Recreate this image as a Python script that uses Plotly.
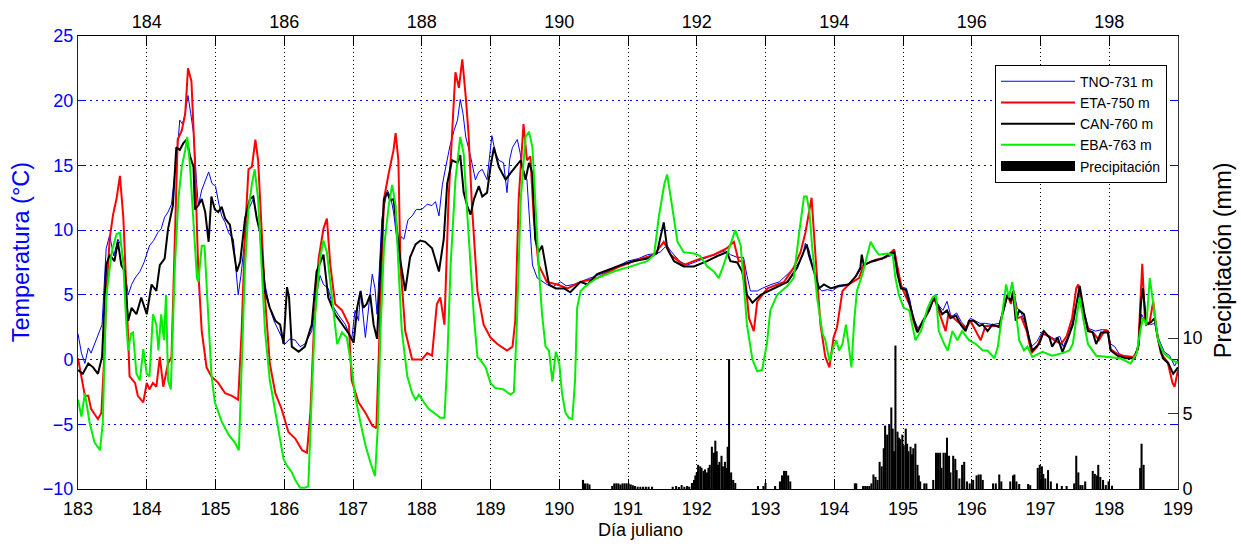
import plotly.graph_objects as go

# ---------------- data ----------------
tno_day = [183.0, 183.05, 183.1, 183.15, 183.19, 183.24, 183.3, 183.35, 183.41, 183.46, 183.52, 183.58, 183.63,
           183.68, 183.73, 183.78, 183.83, 183.9, 183.96, 184.04, 184.1, 184.16, 184.21, 184.26, 184.31, 184.36,
           184.41, 184.45, 184.48, 184.52, 184.55, 184.6, 184.64, 184.68, 184.72, 184.75, 184.8, 184.85, 184.9,
           184.95, 185.0, 185.05, 185.09, 185.14, 185.19, 185.26, 185.3, 185.33, 185.37, 185.41, 185.45, 185.48,
           185.55, 185.6, 185.65, 185.72, 185.79, 185.85, 185.92, 186.01, 186.08, 186.16, 186.23, 186.3, 186.4,
           186.47, 186.52, 186.57, 186.64, 186.7, 186.78, 186.89, 186.98, 187.03, 187.08, 187.11, 187.18, 187.24,
           187.28, 187.32, 187.35, 187.42, 187.5, 187.55, 187.59, 187.66, 187.7, 187.74, 187.8, 187.86, 187.92,
           188.0, 188.08, 188.15, 188.2, 188.25, 188.3, 188.35, 188.41, 188.47, 188.52, 188.56, 188.6, 188.64,
           188.71, 188.78, 188.83, 188.88, 188.95, 189.02, 189.07, 189.12, 189.19, 189.24, 189.28, 189.32, 189.39,
           189.43, 189.46, 189.53, 189.56, 189.61, 189.68, 189.82, 189.9, 190.02, 190.1, 190.21, 190.3, 190.45,
           190.55, 190.7, 190.85, 190.99, 191.15, 191.28, 191.4, 191.47, 191.52, 191.57, 191.62, 191.67, 191.75,
           191.86, 192.0, 192.15, 192.25, 192.35, 192.42, 192.49, 192.59, 192.68, 192.73, 192.78, 192.88, 192.95,
           193.08, 193.2, 193.32, 193.46, 193.54, 193.58, 193.63, 193.7, 193.76, 193.82, 193.9, 193.97, 194.05,
           194.15, 194.25, 194.33, 194.42, 194.5, 194.6, 194.72, 194.82, 194.88, 194.93, 194.98, 195.05, 195.1,
           195.15, 195.22, 195.3, 195.38, 195.45, 195.52, 195.58, 195.64, 195.7, 195.78, 195.85, 195.92, 195.98,
           196.05, 196.12, 196.2, 196.3, 196.4, 196.47, 196.52, 196.57, 196.61, 196.66, 196.72, 196.8, 196.87,
           196.95, 197.03, 197.1, 197.2, 197.28, 197.33, 197.4, 197.47, 197.53, 197.57, 197.63, 197.7, 197.8,
           197.88, 197.97, 198.02, 198.08, 198.15, 198.25, 198.36, 198.42, 198.47, 198.52, 198.6, 198.66, 198.72,
           198.8, 198.88, 198.95, 199.0]
tno_temp = [2.0, 0.5, -0.3, 0.9, 0.5, 1.2, 2.0, 2.7, 8.6, 9.6, 8.0, 9.3, 8.8,
            7.0, 5.0, 5.8, 6.3, 6.8, 7.5, 8.8, 9.2, 9.8, 10.1, 11.0, 11.4, 12.0,
            14.4, 16.5, 18.5, 18.2, 18.8, 20.4, 19.0, 17.5, 14.0, 11.9, 13.1, 13.8, 14.5,
            13.6, 13.4, 12.0, 11.1, 10.6, 9.8, 9.3, 7.0, 5.0, 6.5, 8.6, 10.5, 11.6,
            12.4, 11.0, 9.8, 5.8, 4.0, 3.0, 2.2, 1.2, 1.6, 1.5, 1.0, 1.2, 2.2,
            5.0, 6.5, 5.8, 5.5, 4.2, 3.5, 2.7, 1.5, 3.8, 3.0, 5.3, 1.7, 5.0,
            6.6, 5.5, 3.5, 10.9, 13.1, 12.5, 11.4, 8.3, 9.5, 9.3, 10.8, 11.1, 11.6,
            11.6, 12.0, 11.9, 12.2, 11.1, 13.5, 14.9, 16.5, 17.7, 18.5, 20.1, 19.0, 17.2,
            15.7, 13.9, 14.5, 14.7, 13.9, 17.3, 16.0, 15.4, 15.2, 12.9, 15.5, 16.4, 17.0,
            16.0, 14.9, 13.9, 11.4, 7.3, 6.3, 5.8, 5.6, 6.0, 5.7, 5.8, 6.0, 6.3,
            6.5, 6.8, 7.2, 7.6, 7.8, 8.1, 8.2, 8.3, 8.6, 8.8, 8.4, 8.1, 7.6,
            7.3, 7.6, 7.9, 8.1, 8.3, 8.4, 8.1, 7.9, 7.9, 6.5, 5.3, 5.3, 5.5,
            5.8, 6.0, 6.6, 7.3, 8.0, 9.0, 8.5, 7.0, 5.6, 5.3, 5.4, 5.3, 5.6,
            5.7, 6.0, 6.5, 7.3, 7.5, 7.6, 7.9, 8.0, 8.4, 6.8, 5.6, 5.5, 4.6,
            3.2, 2.4, 3.1, 4.0, 4.6, 4.2, 3.8, 4.5, 3.3, 3.6, 2.9, 2.5, 3.2,
            3.0, 2.8, 2.8, 2.7, 2.8, 4.2, 5.0, 4.6, 5.3, 4.0, 3.6, 2.5, 1.0,
            1.4, 2.2, 1.9, 1.6, 1.8, 1.0, 1.8, 3.0, 4.5, 5.0, 3.8, 2.4, 2.2,
            2.3, 2.3, 1.2, 1.0, 0.4, 0.2, 0.2, 1.0, 3.5, 3.0, 2.7, 2.8, 1.6,
            0.6, 0.3, -0.5, 0.0]

eta_day = [183.0, 183.05, 183.1, 183.15, 183.19, 183.24, 183.29, 183.34, 183.38, 183.41, 183.46, 183.51, 183.56,
           183.61, 183.66, 183.7, 183.75, 183.83, 183.87, 183.95, 184.0, 184.04, 184.09, 184.14, 184.19, 184.24,
           184.31, 184.36, 184.41, 184.45, 184.51, 184.56, 184.6, 184.65, 184.7, 184.75, 184.8, 184.87, 184.94,
           185.04, 185.14, 185.24, 185.33, 185.38, 185.43, 185.48, 185.53, 185.58, 185.62, 185.67, 185.72, 185.79,
           185.87, 185.96, 186.06, 186.16, 186.26, 186.33, 186.38, 186.43, 186.5, 186.57, 186.62, 186.67, 186.74,
           186.84, 186.94, 186.98, 187.08, 187.18, 187.28, 187.34, 187.4, 187.45, 187.52, 187.59, 187.62, 187.66,
           187.69, 187.76, 187.86, 188.0, 188.08, 188.15, 188.22, 188.27, 188.33, 188.39, 188.47, 188.49, 188.54,
           188.59, 188.64, 188.68, 188.73, 188.81, 188.9, 189.0, 189.1, 189.24, 189.32, 189.36, 189.41, 189.46,
           189.48, 189.53, 189.58, 189.63, 189.7, 189.82, 189.97, 190.12, 190.31, 190.55, 190.84, 191.08, 191.38,
           191.52, 191.62, 191.81, 192.0, 192.25, 192.44, 192.54, 192.61, 192.68, 192.76, 192.83, 192.88, 193.03,
           193.27, 193.41, 193.51, 193.58, 193.67, 193.73, 193.8, 193.87, 193.93, 193.99, 194.04, 194.12, 194.21,
           194.36, 194.43, 194.6, 194.75, 194.87, 194.92, 194.97, 195.03, 195.1, 195.15, 195.2, 195.3, 195.38,
           195.45, 195.52, 195.62, 195.66, 195.72, 195.78, 195.85, 195.92, 195.98, 196.06, 196.13, 196.2, 196.3,
           196.4, 196.47, 196.52, 196.57, 196.61, 196.66, 196.72, 196.8, 196.87, 196.95, 197.03, 197.12, 197.2,
           197.3, 197.38, 197.46, 197.52, 197.55, 197.6, 197.64, 197.7, 197.78, 197.85, 197.93, 197.98, 198.02,
           198.1, 198.2, 198.35, 198.42, 198.46, 198.48, 198.52, 198.58, 198.64, 198.68, 198.75, 198.85, 198.92,
           198.95, 199.0]
eta_temp = [0.1, -1.5, -2.8, -2.8, -3.8, -4.2, -4.6, -4.1, 0.0, 4.8, 9.3, 11.2, 12.4,
            14.2, 10.9, 5.8, -1.3, -1.8, -2.8, -3.3, -1.8, -2.3, -1.8, -2.1, 0.2, -2.1,
            -0.3, 0.2, 8.8, 17.0, 17.7, 19.0, 22.5, 21.5, 15.4, 6.8, 2.2, -0.6, -1.3,
            -1.8, -2.6, -2.8, -3.1, 2.2, 9.8, 14.7, 14.9, 17.0, 15.4, 9.8, 4.8, -0.3,
            -2.6, -3.8, -5.6, -6.1, -7.0, -7.2, -4.1, 2.2, 7.8, 10.1, 10.9, 7.3, 4.3,
            3.8, 2.7, -1.6, -3.3, -4.1, -5.1, -5.3, 4.8, 12.4, 14.4, 16.2, 17.5, 15.4,
            7.3, 2.2, 0.0, 0.0, 0.5, 0.3, 4.3, 4.8, 2.7, 12.4, 20.3, 22.2, 21.0,
            23.2, 20.3, 17.5, 11.9, 5.3, 2.7, 1.7, 1.2, 0.7, 1.0, 3.0, 12.4, 17.0,
            18.2, 15.4, 15.7, 10.9, 7.3, 6.0, 5.8, 5.5, 6.0, 6.3, 7.1, 7.6, 8.1,
            9.1, 8.1, 7.3, 7.7, 8.1, 8.6, 9.1, 7.6, 7.6, 3.2, 2.2, 4.5, 5.5,
            6.0, 7.1, 8.3, 9.8, 12.5, 7.8, 2.7, 0.2, -0.6, 1.7, 2.5, 5.3, 5.8,
            6.3, 7.3, 7.7, 7.9, 8.5, 7.2, 5.8, 5.0, 4.2, 3.0, 2.2, 3.0, 3.8,
            4.8, 3.7, 2.2, 3.5, 3.3, 3.0, 2.7, 2.4, 3.0, 2.2, 1.5, 2.6, 2.6,
            2.6, 4.0, 5.0, 4.3, 5.3, 3.2, 3.3, 2.2, 0.5, 1.0, 2.0, 1.8, 1.5,
            1.2, 1.8, 3.2, 5.5, 5.8, 4.0, 3.2, 2.3, 2.0, 1.5, 2.2, 2.2, 0.8,
            0.5, 0.3, 0.2, 0.8, 5.0, 7.4, 3.0, 2.7, 4.5, 2.5, 0.5, -0.2, -1.8,
            -2.1, -0.8]

can_day = [183.0, 183.07, 183.15, 183.22, 183.29, 183.35, 183.41, 183.46, 183.53, 183.58, 183.63, 183.68, 183.7,
           183.73, 183.78, 183.85, 183.92, 184.0, 184.07, 184.14, 184.19, 184.26, 184.31, 184.38, 184.43, 184.48,
           184.53, 184.58, 184.63, 184.68, 184.7, 184.75, 184.8, 184.85, 184.9, 184.94, 184.99, 185.04, 185.09,
           185.14, 185.21, 185.26, 185.31, 185.36, 185.43, 185.5, 185.55, 185.6, 185.65, 185.72, 185.79, 185.87,
           185.94, 185.99, 186.04, 186.07, 186.11, 186.21, 186.3, 186.4, 186.47, 186.57, 186.64, 186.74, 186.84,
           186.94, 187.01, 187.06, 187.11, 187.15, 187.2, 187.25, 187.3, 187.35, 187.4, 187.45, 187.5, 187.54,
           187.59, 187.64, 187.69, 187.76, 187.83, 187.91, 187.98, 188.05, 188.15, 188.25, 188.32, 188.37, 188.44,
           188.52, 188.56, 188.61, 188.66, 188.71, 188.76, 188.83, 188.88, 188.95, 189.0, 189.05, 189.12, 189.17,
           189.22, 189.29, 189.36, 189.44, 189.51, 189.56, 189.61, 189.65, 189.7, 189.75, 189.8, 189.85, 189.95,
           190.07, 190.16, 190.31, 190.41, 190.55, 190.7, 190.89, 191.08, 191.28, 191.42, 191.52, 191.57, 191.67,
           191.81, 191.96, 192.15, 192.3, 192.44, 192.49, 192.59, 192.66, 192.73, 192.81, 192.93, 193.12, 193.32,
           193.46, 193.56, 193.6, 193.63, 193.7, 193.78, 193.85, 193.95, 194.07, 194.21, 194.31, 194.38, 194.4,
           194.43, 194.55, 194.7, 194.82, 194.87, 194.92, 194.97, 195.04, 195.12, 195.17, 195.21, 195.29, 195.38,
           195.45, 195.52, 195.57, 195.64, 195.69, 195.77, 195.84, 195.91, 195.96, 196.03, 196.11, 196.16, 196.23,
           196.3, 196.4, 196.47, 196.52, 196.57, 196.6, 196.64, 196.69, 196.76, 196.83, 196.88, 196.98, 197.05,
           197.13, 197.17, 197.25, 197.32, 197.39, 197.47, 197.54, 197.57, 197.64, 197.69, 197.76, 197.81, 197.88,
           197.98, 198.02, 198.12, 198.24, 198.37, 198.43, 198.46, 198.49, 198.54, 198.61, 198.66, 198.71, 198.78,
           198.86, 198.93, 199.0]
can_temp = [-0.8, -1.1, -0.3, -0.6, -1.1, 0.2, 7.3, 8.1, 7.6, 9.1, 7.3, 6.8, 5.0,
            3.0, 4.0, 3.5, 4.8, 3.5, 5.8, 5.3, 7.3, 7.8, 10.1, 11.9, 16.4, 16.2,
            16.7, 17.0, 15.7, 14.9, 11.6, 11.9, 12.4, 11.4, 9.1, 12.6, 11.6, 11.4, 11.8,
            10.9, 10.4, 8.6, 6.8, 7.6, 10.9, 12.4, 12.6, 10.9, 9.8, 5.3, 4.0, 3.0,
            2.7, 1.2, 5.6, 4.8, 1.0, 0.6, 1.0, 2.7, 6.8, 8.1, 4.8, 3.5, 2.7,
            2.0, 1.3, 4.0, 5.3, 4.0, 4.3, 5.0, 2.7, 1.6, 7.3, 12.4, 12.9, 12.3,
            12.4, 9.8, 7.6, 5.3, 7.9, 8.9, 9.2, 9.1, 8.6, 6.8, 9.3, 13.6, 15.4,
            15.2, 15.8, 12.9, 11.9, 11.2, 12.4, 13.4, 12.6, 12.9, 14.9, 16.4, 14.9, 14.4,
            13.9, 14.4, 14.9, 15.4, 13.9, 15.2, 14.4, 9.3, 8.3, 8.8, 7.3, 5.8, 5.5,
            5.5, 5.2, 6.0, 5.8, 6.6, 6.9, 7.3, 7.6, 7.8, 8.2, 10.6, 8.6, 7.6,
            7.2, 7.2, 7.6, 8.0, 8.3, 7.6, 7.5, 6.8, 5.0, 4.4, 5.0, 5.5, 6.0,
            7.1, 8.3, 8.9, 8.1, 6.8, 5.5, 5.8, 5.5, 5.7, 5.8, 6.4, 7.1, 8.1,
            7.3, 7.6, 7.8, 8.2, 8.3, 6.6, 5.5, 5.4, 3.8, 2.7, 2.1, 3.0, 3.8,
            4.8, 4.0, 3.5, 3.8, 3.2, 3.4, 2.7, 2.2, 3.0, 3.0, 2.6, 2.7, 2.2,
            2.7, 2.5, 4.0, 5.0, 4.5, 5.3, 3.0, 3.8, 3.5, 1.7, 0.7, 1.2, 2.2,
            1.7, 1.0, 1.7, 0.6, 1.5, 2.7, 5.0, 5.7, 3.5, 2.2, 2.1, 1.2, 2.1,
            2.1, 0.7, 0.3, 0.1, 0.1, 1.2, 4.3, 5.5, 2.7, 2.9, 3.2, 1.5, 0.1,
            -0.3, -1.1, -0.6]

eba_day = [183.0, 183.05, 183.1, 183.17, 183.24, 183.32, 183.36, 183.41, 183.49, 183.56, 183.61, 183.66, 183.7,
           183.73, 183.77, 183.8, 183.85, 183.9, 183.95, 184.0, 184.04, 184.09, 184.14, 184.17, 184.21, 184.25,
           184.28, 184.31, 184.35, 184.41, 184.46, 184.51, 184.56, 184.59, 184.63, 184.68, 184.73, 184.75, 184.8,
           184.84, 184.9, 184.94, 184.99, 185.09, 185.19, 185.28, 185.34, 185.38, 185.43, 185.48, 185.53, 185.57,
           185.62, 185.67, 185.72, 185.79, 185.87, 185.94, 185.99, 186.04, 186.11, 186.16, 186.23, 186.3, 186.35,
           186.4, 186.45, 186.52, 186.57, 186.62, 186.67, 186.72, 186.77, 186.84, 186.91, 186.98, 187.03, 187.11,
           187.18, 187.25, 187.32, 187.36, 187.4, 187.45, 187.52, 187.57, 187.62, 187.66, 187.71, 187.79, 187.86,
           187.91, 187.96, 188.03, 188.1, 188.2, 188.27, 188.33, 188.37, 188.42, 188.49, 188.56, 188.61, 188.66,
           188.71, 188.76, 188.81, 188.85, 188.93, 189.0, 189.07, 189.19, 189.29, 189.34, 189.38, 189.44, 189.51,
           189.56, 189.61, 189.65, 189.7, 189.75, 189.8, 189.85, 189.9, 189.95, 190.0, 190.04, 190.09, 190.14,
           190.19, 190.23, 190.26, 190.31, 190.41, 190.55, 190.79, 191.04, 191.28, 191.38, 191.45, 191.53, 191.57,
           191.64, 191.72, 191.81, 191.96, 192.05, 192.15, 192.25, 192.32, 192.39, 192.47, 192.56, 192.64, 192.68,
           192.73, 192.81, 192.88, 192.95, 193.02, 193.07, 193.17, 193.32, 193.41, 193.49, 193.56, 193.6, 193.64,
           193.68, 193.75, 193.83, 193.87, 193.93, 193.99, 194.03, 194.07, 194.12, 194.17, 194.2, 194.25, 194.29,
           194.33, 194.41, 194.48, 194.53, 194.58, 194.65, 194.77, 194.85, 194.89, 194.94, 195.01, 195.09, 195.18,
           195.26, 195.36, 195.43, 195.48, 195.52, 195.6, 195.65, 195.72, 195.79, 195.86, 195.96, 196.06, 196.16,
           196.23, 196.33, 196.38, 196.45, 196.5, 196.54, 196.59, 196.63, 196.69, 196.76, 196.81, 196.88, 197.03,
           197.17, 197.32, 197.42, 197.47, 197.53, 197.57, 197.62, 197.69, 197.81, 197.96, 198.16, 198.31, 198.4,
           198.45, 198.49, 198.54, 198.59, 198.64, 198.71, 198.79, 198.88, 199.0]
eba_temp = [-3.1, -4.4, -2.6, -4.9, -6.4, -7.0, -4.9, 4.8, 8.3, 9.7, 9.8, 7.3, 3.0,
            0.7, 2.0, 2.1, -1.1, -1.6, 0.8, -1.1, -1.3, 3.5, 2.7, 0.7, 3.5, 1.5,
            5.0, -1.6, -2.3, 7.3, 12.4, 14.9, 16.2, 17.2, 14.9, 10.9, 6.3, 6.0, 8.8,
            8.8, 2.2, -1.1, -3.3, -4.8, -5.8, -6.4, -7.0, -0.3, 7.3, 11.6, 13.6, 14.7,
            12.4, 7.3, 2.2, -1.6, -4.1, -6.1, -7.7, -8.2, -8.7, -9.3, -9.9, -9.9, -9.8,
            -2.8, 3.5, 7.8, 9.2, 8.3, 5.8, 3.2, 1.2, 2.1, 1.7, -0.6, -2.8, -4.9,
            -6.6, -7.9, -9.0, -5.3, 2.2, 8.6, 11.9, 13.5, 11.9, 7.3, 2.2, -1.3, -2.6,
            -3.1, -2.7, -3.3, -3.8, -4.2, -4.5, -4.5, -0.3, 7.3, 13.9, 17.2, 15.9, 11.4,
            7.3, 3.2, 0.2, 0.0, -0.6, -1.8, -2.2, -2.3, -2.7, -2.5, 2.2, 12.4, 17.2,
            17.6, 16.4, 12.4, 7.3, 3.5, 1.0, 0.7, -1.7, 0.6, -0.3, -2.6, -4.1, -4.5,
            -4.6, -1.6, 4.0, 5.3, 5.8, 6.3, 6.8, 7.2, 7.6, 8.1, 11.1, 13.6, 14.3,
            11.9, 9.1, 8.3, 8.2, 8.0, 7.2, 6.8, 6.3, 7.3, 8.6, 10.0, 8.8, 6.0,
            2.7, 0.0, -0.9, -0.8, 1.2, 3.8, 5.0, 5.7, 6.3, 9.8, 12.6, 12.6, 11.4,
            8.6, 4.8, 2.0, 1.5, -0.1, 1.0, 1.5, 0.7, 1.2, 2.7, 1.5, -0.6, 3.0,
            5.3, 6.6, 8.1, 9.1, 8.6, 8.1, 8.2, 8.1, 6.3, 5.0, 4.0, 3.8, 1.5,
            2.2, 4.0, 4.8, 5.0, 2.2, 1.2, 0.7, 2.2, 1.5, 2.2, 1.5, 1.2, 0.7,
            0.7, 0.1, 1.0, 3.8, 5.8, 4.8, 6.0, 4.3, 1.5, 0.7, 1.0, 0.2, 0.6,
            0.3, 0.5, 0.7, 1.2, 3.5, 4.8, 3.2, 1.2, 0.3, 0.2, 0.1, -0.3, 0.5,
            2.2, 3.2, 2.7, 6.3, 4.3, 1.5, 0.5, 0.1, -0.3]

precip_day = [190.345, 190.375, 190.41, 190.44,
              190.77, 190.80, 190.83, 190.86, 190.89, 190.92, 190.95, 190.98, 191.01, 191.04, 191.07, 191.10,
              191.14, 191.18, 191.22, 191.26, 191.30, 191.35,
              191.65, 191.70, 191.74, 191.78, 191.82, 191.86, 191.89,
              191.93, 191.96, 191.98, 192.0, 192.02, 192.05, 192.07, 192.10, 192.12, 192.15, 192.17, 192.19,
              192.22, 192.25, 192.27, 192.29, 192.31, 192.33, 192.36, 192.38, 192.41, 192.43, 192.45, 192.47,
              192.50, 192.53, 192.56,
              192.89, 192.97, 193.0, 193.14, 193.21, 193.24, 193.27, 193.30, 193.33, 193.36,
              194.30, 194.32, 194.42, 194.45, 194.48, 194.51, 194.54, 194.57, 194.60, 194.63, 194.66, 194.69,
              194.72, 194.74, 194.77, 194.80, 194.83, 194.85, 194.87, 194.89, 194.92, 194.94, 194.96, 194.99,
              195.01, 195.04, 195.06, 195.08, 195.11, 195.13, 195.15, 195.18, 195.21, 195.23, 195.25, 195.31,
              195.34,
              195.44, 195.48, 195.51, 195.54, 195.56, 195.59, 195.62, 195.64, 195.67, 195.69, 195.73, 195.76,
              195.78, 195.82, 195.86, 195.89, 195.93, 195.97, 196.02, 196.07, 196.10, 196.13, 196.16,
              196.31, 196.35, 196.40, 196.43, 196.56, 196.60, 196.62, 196.65, 196.69, 196.82, 196.85,
              196.96, 196.99, 197.02, 197.04, 197.07, 197.11, 197.15, 197.24, 197.31, 197.38,
              197.49, 197.52, 197.55, 197.58, 197.61, 197.65, 197.76, 197.79, 197.82, 197.84, 197.87, 197.91,
              197.95, 197.99, 198.04,
              198.45, 198.47, 198.50]
precip_mm = [0.6, 0.37, 0.37, 0.3,
             0.2, 0.37, 0.37, 0.37, 0.3, 0.37, 0.37, 0.37, 0.37, 0.3, 0.25, 0.2,
             0.15, 0.15, 0.15, 0.15, 0.15, 0.15,
             0.15, 0.2, 0.1, 0.26, 0.15, 0.2, 0.15,
             0.4, 0.6, 0.9, 1.1, 1.6, 1.5, 1.4, 1.2, 1.3, 1.1, 1.4, 1.6,
             2.8, 2.4, 3.2, 2.5, 1.6, 1.8, 2.2, 1.5, 1.8, 1.4, 2.8, 8.6,
             1.1, 0.6, 0.4,
             0.2, 0.2, 0.4, 0.2, 0.5, 0.9, 1.2, 1.2, 0.9, 0.5,
             0.37, 0.37, 0.2, 0.2, 0.2, 0.2, 0.37, 0.96, 0.8, 0.6, 1.8, 1.5,
             2.7, 4.2, 3.6, 4.3, 5.4, 4.0, 2.5, 9.5, 3.8, 3.4, 3.3, 3.6,
             2.9, 4.0, 3.0, 2.5, 2.8, 2.3, 2.7, 3.0, 1.6, 0.9, 0.5, 0.37,
             0.37,
             0.6, 2.4, 2.4, 2.4, 1.4, 2.4, 2.4, 3.4, 2.2, 1.1, 2.2, 2.0,
             1.25, 0.7, 1.6, 1.8, 0.5, 0.37, 0.6, 0.9, 0.96, 0.96, 0.6,
             0.37, 0.37, 0.96, 0.5, 0.5, 0.9, 0.96, 0.5, 0.33, 0.33, 0.25,
             1.4, 1.6, 1.5, 1.0, 0.7, 1.25, 0.5, 0.37, 0.2, 0.2,
             0.37, 2.2, 1.1, 0.26, 0.26, 0.5, 1.2, 1.0, 0.9, 1.6, 0.8, 0.6,
             0.26, 0.5, 0.22,
             1.4, 3.0, 1.6]

bottom_ticks = list(range(183, 200))
top_labels = [str(d) if d % 2 == 0 else "" for d in bottom_ticks]
temp_ticks = [-10, -5, 0, 5, 10, 15, 20, 25]
precip_ticks = [0, 5, 10]

FONT = "Liberation Sans, Arial, sans-serif"

# plot-area geometry in pixels (for placing the titles like the original)
L, T, W, H = 78, 31, 1100, 458.5

def px_x(p):
    return (p - L) / W

def px_y(p):
    return (T + H - p) / H

fig = go.Figure()
fig.add_trace(go.Bar(x=precip_day, y=precip_mm, yaxis="y2", width=0.03,
                     marker=dict(color="#000000", line=dict(width=0)),
                     showlegend=False, name="Precipitación"))
fig.add_trace(go.Scatter(x=tno_day, y=tno_temp, mode="lines", name="TNO-731 m",
                         line=dict(color="#0000ff", width=1)))
fig.add_trace(go.Scatter(x=eta_day, y=eta_temp, mode="lines", name="ETA-750 m",
                         line=dict(color="#ff0000", width=2)))
fig.add_trace(go.Scatter(x=can_day, y=can_temp, mode="lines", name="CAN-760 m",
                         line=dict(color="#000000", width=2)))
fig.add_trace(go.Scatter(x=eba_day, y=eba_temp, mode="lines", name="EBA-763 m",
                         line=dict(color="#00ee00", width=2)))
fig.add_trace(go.Scatter(x=[None], y=[None], mode="lines", name="Precipitación",
                         line=dict(color="#000000", width=15)))
# dummy trace for the top axis
fig.add_trace(go.Scatter(x=[183, 199], y=[None, None], xaxis="x2", mode="lines",
                         showlegend=False, hoverinfo="skip"))

fig.update_layout(
    width=1241, height=544,
    margin=dict(l=78, r=63, t=31, b=55),
    paper_bgcolor="white", plot_bgcolor="white",
    font=dict(family=FONT, size=18, color="black"),
    showlegend=True,
    legend=dict(x=px_x(995), y=px_y(60), xanchor="left", yanchor="top",
                bgcolor="white", bordercolor="black", borderwidth=1,
                font=dict(size=14, family=FONT, color="black"),
                itemwidth=74, tracegroupgap=0),
    xaxis=dict(range=[183, 199], tickmode="array", tickvals=bottom_ticks,
               ticks="inside", ticklen=10, tickcolor="black",
               showline=True, linecolor="black", linewidth=1,
               showgrid=True, gridcolor="black", gridwidth=1, griddash="1px,3px",
               zeroline=False, tickfont=dict(size=18), ticklabelstandoff=3),
    xaxis2=dict(range=[183, 199], overlaying="x", side="top", anchor="y",
                tickmode="array", tickvals=bottom_ticks, ticktext=top_labels,
                ticks="inside", ticklen=10, tickcolor="black",
                showline=True, linecolor="black", linewidth=1,
                showgrid=False, zeroline=False, tickfont=dict(size=18)),
    yaxis=dict(range=[-10, 25], tickmode="array", tickvals=temp_ticks,
               ticks="inside", ticklen=6, tickcolor="#0000ff", mirror="ticks",
               showline=True, linecolor="#0000ff", linewidth=1,
               showgrid=True, gridcolor="#0000ff", gridwidth=1, griddash="2px,4px",
               zeroline=False, tickfont=dict(size=18, color="#0000ff")),
    yaxis2=dict(range=[0, 30], overlaying="y", side="right", anchor="x",
                tickmode="array", tickvals=precip_ticks,
                ticks="inside", ticklen=10, tickcolor="#333333",
                showline=True, linecolor="#333333", linewidth=1,
                showgrid=False, zeroline=False, tickfont=dict(size=18, color="black")),
    annotations=[
        dict(text="Temperatura (°C)", textangle=-90, xref="paper", yref="paper",
             x=px_x(21), y=px_y(250), xanchor="center", yanchor="middle", showarrow=False,
             font=dict(size=23.5, color="#0000ff", family=FONT)),
        dict(text="Precipitación (mm)", textangle=-90, xref="paper", yref="paper",
             x=px_x(1223), y=px_y(258), xanchor="center", yanchor="middle", showarrow=False,
             font=dict(size=23.5, color="black", family=FONT)),
        dict(text="Día juliano", xref="paper", yref="paper",
             x=px_x(640), y=px_y(531), xanchor="center", yanchor="middle", showarrow=False,
             font=dict(size=18, color="black", family=FONT)),
    ],
)

fig.write_html("out.html")
